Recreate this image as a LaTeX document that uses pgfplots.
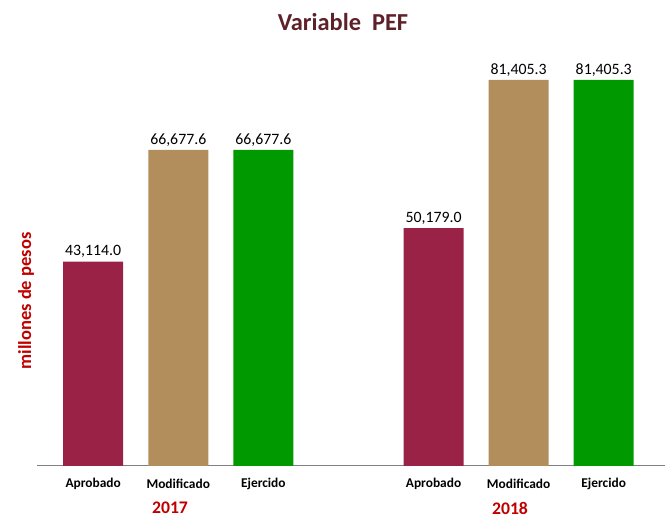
\documentclass[border=0pt]{standalone}
\usepackage{pgfplots}
\pgfplotsset{compat=1.18}
\usepackage{fontspec}
\setmainfont{Carlito}
\definecolor{aprob}{HTML}{9B2247}
\definecolor{modif}{HTML}{B38E5D}
\definecolor{ejerc}{HTML}{009900}
\definecolor{titulo}{HTML}{5E2129}
\definecolor{rojo}{HTML}{C00000}
\begin{document}
\begin{tikzpicture}[x=1pt,y=1pt]
\useasboundingbox (0,0) rectangle (665,519);
\begin{axis}[
  at={(37pt,53pt)}, anchor=south west,
  scale only axis, width=628pt, height=426.8pt,
  xmin=-0.66, xmax=6.72, ymin=0, ymax=90000,
  axis x line=bottom, axis y line=none,
  x axis line style={-, draw=gray, line width=1pt},
  xtick={0,1,2,4,5,6},
  xticklabels={Aprobado,Modificado,Ejercido,Aprobado,Modificado,Ejercido},
  major tick length=0pt,
  xticklabel style={font=\fontsize{13.4}{15}\selectfont\bfseries, anchor=center, yshift=-18pt},
  ytick=\empty,
  ybar, bar width=60pt, bar shift=0pt,
  clip=false,
  /pgf/number format/assume math mode=true,
  nodes near coords={\pgfmathprintnumber[fixed,fixed zerofill,precision=1,1000 sep={,}]{\pgfplotspointmeta}},
  every node near coord/.append style={font=\fontsize{15.8}{18}\selectfont, text=black},
]
\addplot[fill=aprob, draw=none] coordinates {(0,43114.0) (4,50179.0)};
\addplot[fill=modif, draw=none] coordinates {(1,66677.6) (5,81405.3)};
\addplot[fill=ejerc, draw=none] coordinates {(2,66677.6) (6,81405.3)};
\end{axis}
\node[font=\fontsize{24.4}{28}\selectfont\bfseries, text=titulo] at (343,497) {Variable\ \ PEF};
\node[font=\fontsize{17.7}{20}\selectfont\bfseries, text=rojo] at (170,11) {2017};
\node[font=\fontsize{17.7}{20}\selectfont\bfseries, text=rojo] at (510,11) {2018};
\node[font=\fontsize{18.5}{21}\selectfont\bfseries, text=rojo, rotate=90] at (26,218) {millones de pesos};
\end{tikzpicture}
\end{document}
